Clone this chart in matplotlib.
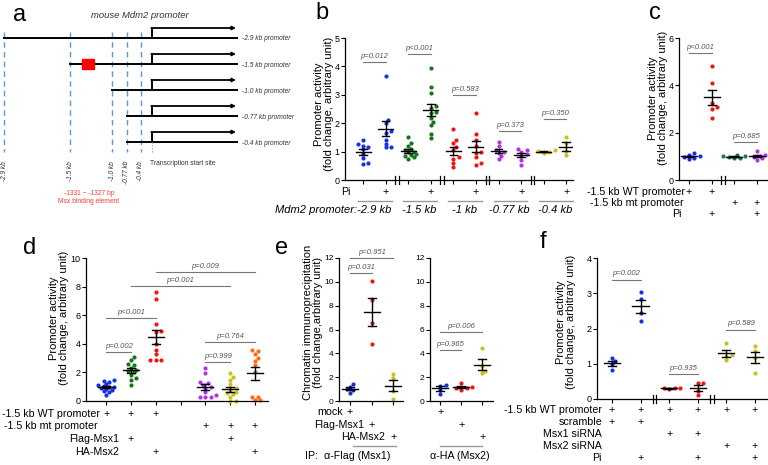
import numpy as np
import matplotlib
matplotlib.use('Agg')
import matplotlib.pyplot as plt
import matplotlib.transforms as mtransforms

plt.rcParams['font.family'] = ['Liberation Sans', 'DejaVu Sans']

W, H = 768, 465

# ---- panel a: promoter constructs ----
a_prom_labels = ['-2.9 kb promoter', '-1.5 kb promoter', '-1.0 kb promoter',
                 '-0.77 kb promoter', '-0.4 kb promoter']
a_cut_labels = ['-2.9 kb', '-1.5 kb', '-1.0 kb', '-0.77 kb', '-0.4 kb']

# ---- panel b ----
b_groups = ['-2.9 kb', '-1.5 kb', '-1 kb', '-0.77 kb', '-0.4 kb']
b_29_ctrl = [1.40, 1.26, 1.21, 1.15, 1.08, 0.91, 0.76, 0.59, 0.55]
b_29_pi = [3.67, 2.13, 2.02, 1.72, 1.65, 1.40, 1.28, 1.17, 1.15]
b_15_ctrl = [1.50, 1.30, 1.20, 1.10, 1.05, 1.00, 0.97, 0.92, 0.88, 0.85, 0.80, 0.75]
b_15_pi = [3.95, 3.28, 3.07, 2.62, 2.55, 2.40, 2.35, 2.20, 2.05, 1.95, 1.62, 1.48]
b_10_ctrl = [1.80, 1.40, 1.30, 1.15, 1.05, 0.80, 0.75, 0.60, 0.45]
b_10_pi = [2.37, 1.63, 1.42, 1.20, 1.00, 0.95, 0.80, 0.60, 0.53]
b_077_ctrl = [1.35, 1.20, 1.05, 1.00, 0.95, 0.85, 0.75]
b_077_pi = [1.10, 1.05, 1.00, 0.90, 0.85, 0.70, 0.52]
b_04_ctrl = [1.04, 1.01, 0.98, 0.96]
b_04_pi = [1.52, 1.30, 1.02, 0.87]
b_pvals = ['p=0.012', 'p<0.001', 'p=0.583', 'p=0.373', 'p=0.350']

# ---- panel c ----
c_wt_ctrl = [1.12, 1.05, 1.00, 0.98, 0.93, 0.90]
c_wt_pi = [4.83, 4.10, 3.25, 3.10, 3.02, 2.62]
c_mt_ctrl = [1.06, 1.02, 1.00, 0.98, 0.95, 0.93]
c_mt_pi = [1.22, 1.06, 1.02, 0.98, 0.92, 0.86]
c_pvals = ['p<0.001', 'p=0.685']

# ---- panel d ----
d_wt = [1.45, 1.40, 1.35, 1.20, 1.10, 1.05, 1.00, 0.95, 0.90, 0.85, 0.80, 0.70, 0.60, 0.45]
d_wt_msx1 = [3.05, 2.90, 2.60, 2.50, 2.30, 2.20, 2.10, 2.00, 1.80, 1.60, 1.50, 1.10]
d_wt_msx2 = [7.60, 7.10, 5.40, 4.90, 4.80, 4.00, 3.60, 3.30, 2.90, 2.90, 2.85]
d_mt = [2.28, 1.93, 1.35, 1.24, 1.12, 1.00, 0.89, 0.65, 0.42, 0.30, 0.30, 0.26]
d_mt_msx1 = [1.93, 1.70, 1.47, 1.19, 0.89, 0.77, 0.65, 0.54, 0.50, 0.30, 0.03, 0.03]
d_mt_msx2 = [3.55, 3.50, 3.30, 3.00, 2.80, 2.50, 2.00, 0.30, 0.25, 0.05, 0.05]
d_pvals = ['p=0.002', 'p<0.001', 'p=0.001', 'p=0.009', 'p=0.764', 'p=0.999']

# ---- panel e ----
e_flag_mock = [1.40, 1.20, 1.00, 0.90, 0.70]
e_flag_msx1 = [10.10, 8.45, 6.55, 4.80]
e_flag_msx2 = [2.30, 1.90, 0.80, 0.20]
e_ha_mock = [1.35, 1.30, 0.95, 0.60]
e_ha_msx1 = [1.55, 1.20, 1.10, 1.05, 0.95]
e_ha_msx2 = [4.45, 2.90, 2.55, 2.35]
e_flag_pvals = ['p=0.951', 'p=0.031']
e_ha_pvals = ['p=0.006', 'p=0.965']

# ---- panel f ----
f_scr = [1.16, 1.07, 0.98, 0.83]
f_scr_pi = [3.03, 2.85, 2.44, 2.20]
f_msx1 = [0.32, 0.31, 0.30, 0.28]
f_msx1_pi = [0.46, 0.44, 0.22, 0.12]
f_msx2 = [1.60, 1.26, 1.21, 1.10]
f_msx2_pi = [1.49, 1.35, 1.15, 0.73]
f_pvals = ['p=0.002', 'p=0.935', 'p=0.589']

BLUE = '#1530e8'
GREEN = '#16751a'
TEAL = '#1b7a4e'
RED = '#f01515'
PURPLE = '#b133e6'
OLIVE = '#c9c21c'
ORANGE = '#ff6a12'
PGREY = '#555555'
LSZ = 7.7  # row label size

fig = plt.figure(figsize=(W / 100, H / 100), dpi=100)


def add_ax(l, t, r, b):
    return fig.add_axes([l / W, 1 - b / H, (r - l) / W, (b - t) / H])


def ftext(x, y, s, **kw):
    fig.text(x / W, 1 - y / H, s, **kw)


def col_text(ax, pos, y, s, size=LSZ, **kw):
    ax.annotate(s, xy=(pos, H - y), xycoords=('data', 'figure pixels'),
                ha='center', va='center', annotation_clip=False, fontsize=size, **kw)


def under_line(ax, x0, x1, y):
    tr = mtransforms.blended_transform_factory(ax.transData, fig.transFigure)
    ax.plot([x0, x1], [1 - y / H] * 2, color='#999999', lw=1.0, transform=tr, clip_on=False)


def style(ax, ylim, yticks, xlim, xpos, tsize=6.5):
    ax.set_xlim(xlim)
    ax.set_ylim(ylim)
    for s in ['top', 'right']:
        ax.spines[s].set_visible(False)
    for s in ['left', 'bottom']:
        ax.spines[s].set_linewidth(0.9)
    ax.set_yticks(yticks)
    ax.set_xticks(xpos)
    ax.set_xticklabels([])
    ax.tick_params(labelsize=tsize, length=3, width=0.8, pad=1)
    ax.patch.set_alpha(0)


def swarm(vals, ppx, ppy, dot=3.4):
    vals = np.asarray(vals, dtype=float)
    offs = np.zeros(len(vals))
    placed = []
    cands = [0.0]
    for k in range(1, 8):
        cands += [k * dot * 0.8, -k * dot * 0.8]
    for i in np.argsort(vals):
        y = vals[i] * ppy
        for c in cands:
            if all((c - px) ** 2 + (y - py) ** 2 >= dot ** 2 for px, py in placed):
                break
        placed.append((c, y))
        offs[i] = c / ppx
    return offs


def group(ax, x, vals, color, ppx, ppy, half=8, cap=4):
    vals = np.asarray(vals, dtype=float)
    ax.scatter(x + swarm(vals, ppx, ppy), vals, s=9, color=color, lw=0, zorder=2, clip_on=False)
    m = vals.mean()
    se = vals.std(ddof=1) / np.sqrt(len(vals))
    hw, cw = half / ppx, cap / ppx
    ax.plot([x - hw, x + hw], [m, m], color='k', lw=1.0, zorder=3)
    ax.plot([x, x], [m - se, m + se], color='k', lw=1.0, zorder=3)
    for v in (m - se, m + se):
        ax.plot([x - cw, x + cw], [v, v], color='k', lw=1.0, zorder=3)


def pval(ax, x0, x1, y, s):
    ax.plot([x0, x1], [y, y], color='#777777', lw=0.8, clip_on=False)
    ax.annotate(s, xy=((x0 + x1) / 2, y), xytext=(0, 1.5), textcoords='offset points',
                ha='center', va='bottom', fontsize=5.5, style='italic', color=PGREY,
                annotation_clip=False)


def brk(ax, x, ppx, hpx):
    tr = ax.get_xaxis_transform()
    for d in (-1.6, 1.6):
        ax.plot([x + d / ppx] * 2, [-4 / hpx, 4 / hpx], color='k', lw=0.9,
                transform=tr, clip_on=False)


def panel_label(x, y, s):
    ftext(x, y, s, fontsize=17, ha='center', va='center')


def ylab(x, y, s, size=8):
    ftext(x, y, s, rotation=90, ha='center', va='center', fontsize=size,
          multialignment='center', linespacing=0.92)


# ===== panel a =====
ax_a = fig.add_axes([0, 1 - 210 / H, 260 / W, 210 / H])
ax_a.set_xlim(0, 260)
ax_a.set_ylim(210, 0)
ax_a.axis('off')
cut_x = [4, 70, 112, 127, 141]
start_x = [4, 70, 112, 127, 127]
row_y = [38, 64, 90, 116, 142]
tss = 152
for x, lab in zip(cut_x, a_cut_labels):
    ax_a.plot([x, x], [32, 152], color='#5b9bd5', lw=1.0, ls=(0, (4, 3)))
    ax_a.text(x, 161, lab, rotation=90, ha='center', va='top', fontsize=4.7,
              style='italic', color='#333333')
for y, x0, lab in zip(row_y, start_x, a_prom_labels):
    ax_a.plot([x0, 237], [y, y], color='k', lw=1.4)
    ax_a.plot([tss, tss], [y, y - 10], color='k', lw=1.4)
    ax_a.annotate('', xy=(236, y - 10), xytext=(tss - 0.7, y - 10),
                  arrowprops=dict(arrowstyle='-|>', lw=1.3, color='k', mutation_scale=5,
                                  shrinkA=0, shrinkB=0))
    ax_a.text(242, y + 1, lab, ha='left', va='center', fontsize=4.8, style='italic',
              color='#333333')
ax_a.plot([tss, tss], [142, 153], color='#5b9bd5', lw=0.8, ls=':')
ax_a.add_patch(plt.Rectangle((82, 59), 12, 10, color='#ff0000', zorder=3))
ax_a.text(140, 16, 'mouse Mdm2 promoter', ha='center', va='center', fontsize=6.8,
          style='italic', color='#333333')
ax_a.text(150, 163, 'Transcription start site', ha='left', va='center', fontsize=4.8,
          color='#333333')
ax_a.text(89, 193, '-1331 ~ -1327 bp', ha='center', va='center', fontsize=4.8, color='#ff3b3b')
ax_a.text(89, 201, 'Msx binding element', ha='center', va='center', fontsize=4.8,
          color='#ff3b3b')
panel_label(20, 15, 'a')

# ===== panel b =====
ax_b = add_ax(345, 38, 573, 180)
bx = np.arange(10)
style(ax_b, (0, 5), range(6), (-0.8, 9.3), bx)
b_sets = [(b_29_ctrl, b_29_pi, BLUE), (b_15_ctrl, b_15_pi, GREEN), (b_10_ctrl, b_10_pi, RED),
          (b_077_ctrl, b_077_pi, PURPLE), (b_04_ctrl, b_04_pi, OLIVE)]
b_ph = [4.14, 4.42, 3.0, 1.72, 2.14]
for i, (c0, c1, col) in enumerate(b_sets):
    group(ax_b, 2 * i, c0, col, 22.6, 28.4, half=7.5, cap=3.8)
    group(ax_b, 2 * i + 1, c1, col, 22.6, 28.4, half=7.5, cap=3.8)
    pval(ax_b, 2 * i, 2 * i + 1, b_ph[i], b_pvals[i])
    col_text(ax_b, 2 * i + 1, 192, '+')
    under_line(ax_b, 2 * i - 0.22, 2 * i + 1.28, 201)
    col_text(ax_b, 2 * i + 0.5, 210, b_groups[i], size=8, style='italic')
for i in range(4):
    brk(ax_b, 2 * i + 1.5, 22.6, 142)
ftext(351, 192, 'Pi', ha='right', va='center', fontsize=LSZ)
ftext(357, 210, 'Mdm2 promoter:', ha='right', va='center', fontsize=8, style='italic')
ylab(324, 104, 'Promoter activity\n(fold change, arbitrary unit)')
panel_label(322, 13, 'b')

# ===== panel c =====
ax_c = add_ax(679, 38, 767, 180)
cx = np.arange(4)
style(ax_c, (0, 6), [0, 2, 4, 6], (-0.44, 3.44), cx)
for x, vals, col in zip(cx, [c_wt_ctrl, c_wt_pi, c_mt_ctrl, c_mt_pi], [BLUE, RED, TEAL, PURPLE]):
    group(ax_c, x, vals, col, 22.7, 23.67)
pval(ax_c, 0, 1, 5.37, c_pvals[0])
pval(ax_c, 2, 3, 1.6, c_pvals[1])
brk(ax_c, 1.5, 22.7, 142)
ftext(685, 192, '-1.5 kb WT promoter', ha='right', va='center', fontsize=LSZ)
ftext(684, 203, '-1.5 kb mt promoter', ha='right', va='center', fontsize=LSZ)
ftext(682, 214, 'Pi', ha='right', va='center', fontsize=LSZ)
for x in (0, 1):
    col_text(ax_c, x, 192, '+')
for x in (2, 3):
    col_text(ax_c, x, 203, '+')
for x in (1, 3):
    col_text(ax_c, x, 214, '+')
ylab(658, 98, 'Promoter activity\n(fold change, arbitrary unit)')
panel_label(655, 13, 'c')

# ===== panel d =====
ax_d = add_ax(86, 258, 268, 401)
dx = np.arange(7)
style(ax_d, (0, 10), range(0, 11, 2), (-0.82, 6.53), dx)
d_sets = [(0, d_wt, BLUE), (1, d_wt_msx1, GREEN), (2, d_wt_msx2, RED),
          (4, d_mt, PURPLE), (5, d_mt_msx1, OLIVE), (6, d_mt_msx2, ORANGE)]
for x, vals, col in d_sets:
    group(ax_d, x, vals, col, 24.8, 14.3)
d_br = [(0, 1, 3.4), (0, 2, 5.83), (1, 5, 8.07), (2, 6, 9.0), (4, 6, 4.15), (4, 5, 2.7)]
for (x0, x1, y), s in zip(d_br, d_pvals):
    pval(ax_d, x0, x1, y, s)
ftext(100, 414, '-1.5 kb WT promoter', ha='right', va='center', fontsize=LSZ)
ftext(98, 426, '-1.5 kb mt promoter', ha='right', va='center', fontsize=LSZ)
ftext(119, 439, 'Flag-Msx1', ha='right', va='center', fontsize=LSZ)
ftext(119, 452, 'HA-Msx2', ha='right', va='center', fontsize=LSZ)
for rows, y in [((0, 1, 2), 414), ((4, 5, 6), 426), ((1, 5), 439), ((2, 6), 452)]:
    for x in rows:
        col_text(ax_d, x, y, '+')
ylab(59, 318, 'Promoter activity\n(fold change, arbitrary unit)')
panel_label(30, 248, 'd')

# ===== panel e =====
ax_e1 = add_ax(339, 258, 403, 401)
ax_e2 = add_ax(430, 258, 493, 401)
ex = np.arange(3)
style(ax_e1, (0, 12), range(0, 13, 2), (-0.51, 2.44), ex, tsize=6)
style(ax_e2, (0, 12), range(0, 13, 2), (-0.48, 2.52), ex, tsize=6)
for x, vals, col in zip(ex, [e_flag_mock, e_flag_msx1, e_flag_msx2], [BLUE, RED, OLIVE]):
    group(ax_e1, x, vals, col, 21.7, 11.9)
for x, vals, col in zip(ex, [e_ha_mock, e_ha_msx1, e_ha_msx2], [BLUE, RED, OLIVE]):
    group(ax_e2, x, vals, col, 21.0, 11.9)
pval(ax_e1, 0, 2, 11.97, e_flag_pvals[0])
pval(ax_e1, 0, 1, 10.7, e_flag_pvals[1])
pval(ax_e2, 0, 2, 5.8, e_ha_pvals[0])
pval(ax_e2, 0, 1, 4.28, e_ha_pvals[1])
ftext(343, 412, 'mock', ha='right', va='center', fontsize=LSZ)
ftext(364, 425, 'Flag-Msx1', ha='right', va='center', fontsize=LSZ)
ftext(385, 437, 'HA-Msx2', ha='right', va='center', fontsize=LSZ)
for x, y in zip(ex, [412, 425, 437]):
    col_text(ax_e1, x, y, '+')
    col_text(ax_e2, x, y, '+')
under_line(ax_e1, 0.14, 2.14, 446)
under_line(ax_e2, 0, 2, 446)
ftext(305, 456, 'IP:  \u03b1-Flag (Msx1)', ha='left', va='center', fontsize=LSZ)
ftext(460, 456, '\u03b1-HA (Msx2)', ha='center', va='center', fontsize=LSZ)
ylab(313, 322, 'Chromatin immunoprecipitation\n(fold change,arbitrary unit)')
panel_label(282, 248, 'e')

# ===== panel f =====
ax_f = add_ax(597, 258, 767, 399)
fx = np.arange(6)
style(ax_f, (0, 4), range(5), (-0.52, 5.42), fx)
f_sets = [f_scr, f_scr_pi, f_msx1, f_msx1_pi, f_msx2, f_msx2_pi]
f_cols = [BLUE, BLUE, RED, RED, OLIVE, OLIVE]
for x, vals, col in zip(fx, f_sets, f_cols):
    group(ax_f, x, vals, col, 28.6, 35.25)
pval(ax_f, 0, 1, 3.39, f_pvals[0])
pval(ax_f, 2, 3, 0.71, f_pvals[1])
pval(ax_f, 4, 5, 1.97, f_pvals[2])
brk(ax_f, 1.5, 28.6, 141)
brk(ax_f, 3.5, 28.6, 141)
f_rows = ['-1.5 kb WT promoter', 'scramble', 'Msx1 siRNA', 'Msx2 siRNA', 'Pi']
f_marks = [(0, 1, 2, 3, 4, 5), (0, 1), (2, 3), (4, 5), (1, 3, 5)]
for lab, marks, y in zip(f_rows, f_marks, [410, 422, 434, 446, 458]):
    ftext(602, y, lab, ha='right', va='center', fontsize=LSZ)
    for x in marks:
        col_text(ax_f, x, y, '+')
ylab(566, 322, 'Promoter activity\n(fold change, arbitrary unit)')
panel_label(543, 242, 'f')

fig.savefig('out.png', dpi=100)
